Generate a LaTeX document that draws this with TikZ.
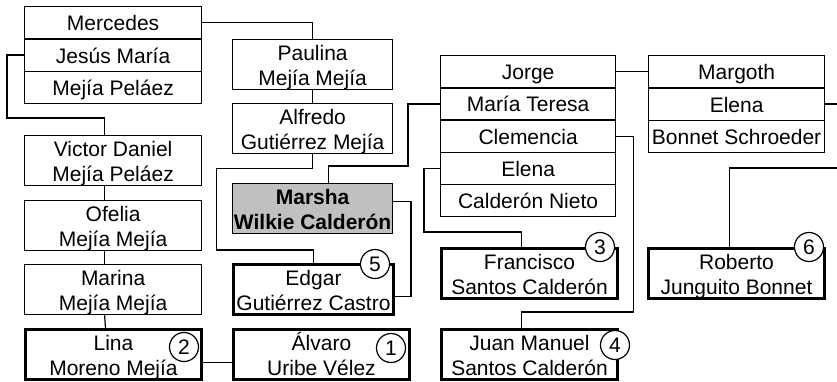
\documentclass[tikz,border=0pt]{standalone}
\usepackage{fontspec}
\setmainfont{Liberation Sans}
\newcommand\topst{\rule{0pt}{20.5pt}}
\newcommand\botst{\rule[-4.5pt]{0pt}{4.5pt}}
\definecolor{selgray}{HTML}{C0C0C0}
\begin{document}
\begin{tikzpicture}[x=1pt,y=-1pt,
  box/.style={draw,line width=1.2pt,inner sep=0pt,anchor=north west,align=center,
    font=\fontsize{21}{25}\selectfont,minimum height=49pt},
  row/.style={box,minimum height=32.3pt},
  keybox/.style={box,line width=3pt,minimum height=50pt},
  num/.style={circle,draw,fill=white,line width=1.2pt,minimum size=29pt,inner sep=0pt,
    font=\fontsize{21}{25}\selectfont},
  conn/.style={line width=1.2pt}]
\useasboundingbox (0,0) rectangle (837,381);
\clip (0,0) rectangle (837,381);

% left column
\node[row,minimum width=177pt] (mercedes) at (24,6) {\topst Mercedes\botst};
\node[row,minimum width=177pt] (jesus) at (24,38.3) {\topst Jesús María\botst};
\node[row,minimum width=177pt] (mejiap) at (24,70.6) {\topst Mejía Peláez\botst};
\node[box,minimum width=177pt] (victor) at (24,135) {\topst Victor Daniel\\Mejía Peláez\botst};
\node[box,minimum width=177pt] (ofelia) at (24,200) {\topst Ofelia\\Mejía Mejía\botst};
\node[box,minimum width=177pt] (marina) at (24,264) {\topst Marina\\Mejía Mejía\botst};
\node[keybox,minimum width=176pt] (lina) at (24,328) {\topst Lina\\Moreno Mejía\botst};

% middle column
\node[box,minimum width=160pt,minimum height=48pt] (paulina) at (232,39) {\topst Paulina\\Mejía Mejía\botst};
\node[box,minimum width=160pt] (alfredo) at (232,103) {\topst Alfredo\\Gutiérrez Mejía\botst};
\node[box,minimum width=160pt,fill=selgray] (marsha) at (232,183) {\bfseries\topst Marsha\\\bfseries Wilkie Calderón\botst};
\node[keybox,minimum width=160pt] (edgar) at (232,263) {\topst Edgar\\Gutiérrez Castro\botst};
\node[keybox,minimum width=176pt] (alvaro) at (232,328) {\topst Álvaro\\Uribe Vélez\botst};

% right column 1
\node[row,minimum width=175pt] (jorge) at (440,55) {\topst Jorge\botst};
\node[row,minimum width=175pt] (mteresa) at (440,87.2) {\topst María Teresa\botst};
\node[row,minimum width=175pt] (clemencia) at (440,119.4) {\topst Clemencia\botst};
\node[row,minimum width=175pt] (elenac) at (440,151.6) {\topst Elena\botst};
\node[row,minimum width=175pt] (calderon) at (440,183.8) {\topst Calderón Nieto\botst};
\node[keybox,minimum width=176pt] (francisco) at (440,247) {\topst Francisco\\Santos Calderón\botst};
\node[keybox,minimum width=176pt] (juan) at (440,328) {\topst Juan Manuel\\Santos Calderón\botst};

% right column 2
\node[row,minimum width=176pt] (margoth) at (648,55) {\topst Margoth\botst};
\node[row,minimum width=176pt] (elenab) at (648,87.3) {\topst Elena\botst};
\node[row,minimum width=176pt] (bonnet) at (648,119.6) {\topst Bonnet Schroeder\botst};
\node[keybox,minimum width=176pt] (roberto) at (647,247) {\topst Roberto\\Junguito Bonnet\botst};

% connectors
\draw[conn] (mercedes.east) -| (paulina.north);
\draw[conn] (jesus.west) -- ++(-17,0) |- ([xshift=-8.5pt,yshift=17pt]victor.north) -- ([xshift=-8.5pt]victor.north);
\draw[conn] ([xshift=-8.5pt]victor.south) -- ([xshift=-8.5pt]ofelia.north);
\draw[conn] ([xshift=-8.5pt]ofelia.south) -- ([xshift=-8.5pt]marina.north);
\draw[conn] ([xshift=-8.5pt]marina.south) -- ([xshift=-8pt]lina.north);
\draw[conn] ([yshift=-8pt]lina.east) -- ([yshift=-8pt]alvaro.west);
\draw[conn] (paulina.south) -- (alfredo.north);
\draw[conn] (alfredo.south) |- ++(-96,14) |- ([yshift=13pt]edgar.north) -- (edgar.north);
\draw[conn] ([xshift=16pt]marsha.north) -- ++(0,-17) -| ([xshift=-32pt]mteresa.west) -- (mteresa.west);
\draw[conn] ([yshift=7.5pt]marsha.east) -| ([xshift=16pt,yshift=-7pt]edgar.east) -- ([yshift=-7pt]edgar.east);
\draw[conn] (jorge.east) -- (margoth.west);
\draw[conn] (elenac.west) -- ++(-16,0) |- ([xshift=-8pt,yshift=15pt]francisco.north) -- ([xshift=-8pt]francisco.north);
\draw[conn] (clemencia.east) -- ++(17,0) |- ([xshift=-8pt,yshift=16pt]juan.north) -- ([xshift=-8pt]juan.north);
\draw[conn] (elenab.east) -- ++(30,0) -- ++(0,64) -| ([xshift=-7pt]roberto.north);

% numbered markers
\node[num] (n1) at (391,348) {1};
\node[num] (n2) at (184,347) {2};
\node[num] (n3) at (600,247) {3};
\node[num] (n4) at (615,345) {4};
\node[num] (n5) at (375,264) {5};
\node[num] (n6) at (809,247) {6};
\end{tikzpicture}
\end{document}
